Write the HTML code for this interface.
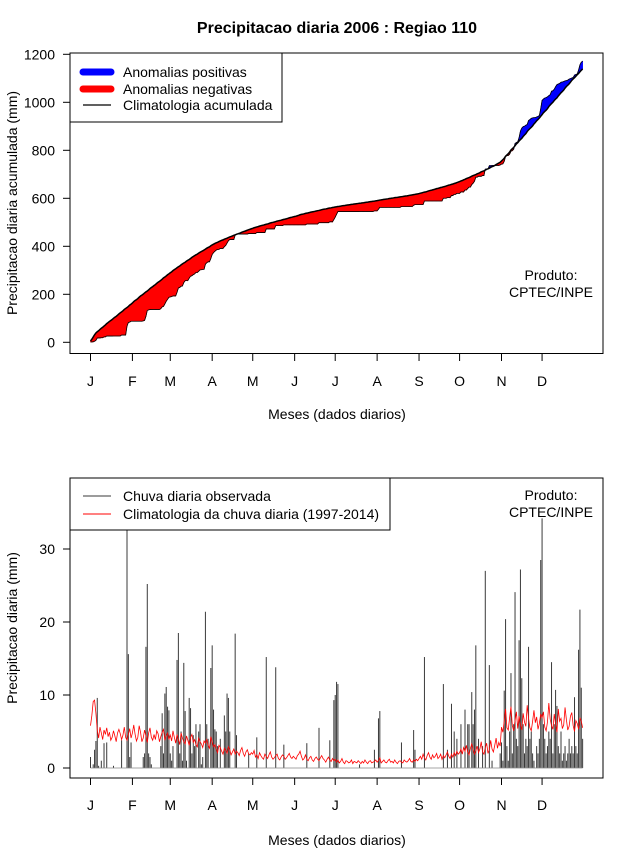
<!DOCTYPE html>
<html><head><meta charset="utf-8">
<style>
html,body{margin:0;padding:0;background:#fff;}
svg{display:block;font-family:"Liberation Sans",Arial,sans-serif;}
</style></head>
<body>
<svg id="chart" width="640" height="850" viewBox="0 0 640 850" xmlns="http://www.w3.org/2000/svg"></svg>
<script>
const months = ["J","F","M","A","M","J","J","A","S","O","N","D"];
const monthStartDays = [1,32,60,91,121,152,182,213,244,274,305,335];
const topTicks = [0,200,400,600,800,1000,1200];
const bottomTicks = [0,10,20,30];
const climDaily = [
5.8,7.2,9.1,9.3,7.5,5.2,4.1,5.6,4.8,3.9,5.2,4.6,5.5,4.3,4.9,3.8,4.2,5.1,4.4,3.6,4.8,5.3,4.7,3.9,4.5,5.6,4.2,3.8,4.6,5.4,4.1,
4.8,5.9,4.6,3.7,4.2,5.8,4.9,3.6,4.1,5.2,4.4,3.5,4.8,5.5,4.2,3.8,4.6,3.9,5.1,4.7,3.6,4.3,4.9,5.3,3.8,4.4,4.8,3.9,
4.5,3.7,5.1,4.2,3.4,4.6,3.9,3.2,4.8,4.1,3.6,3.3,4.4,3.8,3.1,4.2,4.6,3.5,3.9,3.2,2.9,4.1,3.6,3.3,2.8,3.7,3.4,3.9,3.1,2.7,4.3,
3.6,2.9,3.2,2.6,2.1,3.1,2.8,2.3,1.9,2.7,2.4,2.0,2.9,2.5,1.8,2.2,2.6,1.9,2.3,2.1,1.7,2.4,2.8,2.0,1.6,2.2,2.5,1.9,1.8,2.1,
1.9,2.4,1.5,1.8,1.3,2.1,1.7,1.4,1.2,1.9,1.6,1.3,1.8,2.2,1.5,1.2,1.4,1.7,1.9,1.3,1.1,1.5,1.8,1.6,1.2,1.4,1.7,2.0,1.5,1.3,1.6,
1.4,1.2,1.7,1.9,2.3,1.6,1.1,1.3,1.8,1.2,1.0,1.4,1.6,1.1,0.9,1.3,1.5,1.2,1.0,1.4,1.7,1.3,1.1,0.8,1.2,1.5,1.1,0.9,1.3,1.0,
1.2,0.8,1.1,0.7,0.9,1.3,0.8,0.6,1.0,0.9,0.7,0.8,1.1,0.6,0.9,0.8,0.7,1.0,0.8,0.6,0.9,0.7,1.1,0.8,0.6,0.9,1.0,0.7,0.8,0.9,1.1,
0.8,1.0,1.4,0.7,0.9,1.1,0.8,0.7,1.0,1.2,0.8,0.9,0.7,1.1,0.8,0.6,0.9,1.0,0.8,0.7,1.1,0.9,0.8,1.0,1.3,0.9,0.8,1.1,0.9,1.2,1.0,
1.3,1.6,1.2,1.9,1.4,1.1,1.7,2.1,1.5,1.2,1.8,1.4,1.6,2.0,1.3,1.5,1.9,1.2,1.7,1.4,1.8,2.2,1.6,1.3,1.9,1.5,2.1,1.7,2.3,1.9,
2.1,2.6,1.9,2.8,2.3,3.1,2.2,1.8,2.7,3.3,2.5,1.9,2.4,3.0,2.1,2.6,3.6,2.2,1.9,2.8,3.4,2.0,2.5,3.8,2.6,2.2,3.1,4.1,2.7,3.5,3.0,
5.6,4.9,6.4,8.1,5.5,5.2,6.9,8.4,5.8,5.1,6.5,7.7,5.4,7.1,5.9,5.2,7.5,6.3,5.7,8.6,6.8,5.5,5.1,6.4,7.9,6.2,7.0,5.3,6.1,7.4,
6.9,7.7,5.6,5.1,6.3,8.9,6.7,5.8,5.3,7.4,6.0,4.9,8.1,6.4,6.8,5.4,5.9,8.3,6.6,5.2,5.7,7.1,7.6,5.8,5.0,6.5,6.1,5.3,6.9,6.4,5.5
];
const obsDaily = [
1.5,0,0.5,2.5,3.7,9.6,0.3,0,1,0,3.4,0,3.5,0,0,0,0,0.3,0,0,0,0,0,3.8,0,0,0,37,15.6,1.5,3.5,
0,0,0,0,0,0,0,0,1.5,2,16.6,25.2,2,1.5,0.5,0,0,0,0,0,0,3,7.5,2,10.2,11.1,8.4,7.9,
2,1,3,0,0,14.8,18.5,2,5,1,14.4,7.8,1,0,9.6,8.2,2,4.5,3,6,0,5,6,0.5,1.5,0,21.4,6,4,0,13.7,
16.8,8,5.3,5,3,0,4,0,0,7.2,5,10.2,9.6,5,0,0,0,18.4,4.5,0,0,0,0,0,0,0,0,2,0,0,
0,0,0,4.2,0,0,0,0,0,0,15.2,0,0,0,0,0,0,13.8,0,0,0,0,0,3.2,0,0,0,0,0,0,0,
0,0,0,0,0,0,0,0,0,3.4,0,0,0,0,0,0,0,0,5.5,0,0,0,0,0,0,0,3.8,0,0,9.3,
10,11.8,11.5,0,0,0,0,0,0,0,0,0,0,0,0,0,0,0,0.5,0,0,0,0,0,0,0,0,0,0,2.5,0,
0,6.8,7.8,0,0,0,0,0,0,0,0,0,0,0,0,0,0,0,3.5,0,0,0,0,0,0,0,0,5.2,2.5,0,0,
0,0,0,0,15.2,0,0,0,0,0,0,0,0,0,0,0,0,0,11.5,0,0,2.5,0,0,8.8,0,5,0,4,0,
0,6,0,0,8,0,6,6,0,10.4,6,8,16.8,0,4,0,0,3,0,27,0,0,14.1,0,1,0,0,0,0,0,2,
3.5,1,10.6,20.4,3,1,5,13,2,6,24.1,4,3,17.5,27.2,12.3,6,2,4,3,16.6,4,5,2,1,0,3,2,4,28.5,
34.2,6,4,2,3,5,4,14.5,2,6,10.7,8.5,3,2,5,1,2,3,1,2,4,2,3,2,9.7,3,2,16.2,21.7,11,4
];

const svg = document.getElementById('chart');
const NS = "http://www.w3.org/2000/svg";
function mk(tag, attrs, parent){
  const e = document.createElementNS(NS, tag);
  for (const k in attrs) e.setAttribute(k, attrs[k]);
  (parent||svg).appendChild(e);
  return e;
}
function txt(str, attrs, parent){ const t = mk('text', attrs, parent); t.textContent = str; return t; }

const xDay = d => 90.5 + (d-1)*1.352;
const yTop = v => 342.3 - v*0.24;
const yBot = v => 768 - v*7.3;

const title = txt("Precipitacao diaria 2006 : Regiao 110", {x:337,y:33,"text-anchor":"middle","font-size":16,"font-weight":"bold"});



// ===== TOP PANEL =====
const cumObs = [], cumClim = [];
let so=0, sc=0;
for (let i=0;i<obsDaily.length;i++){ so+=obsDaily[i]; sc+=climDaily[i]; cumObs.push(so); cumClim.push(sc); }

const gTop = mk('g',{});


for (let i=0;i<cumObs.length-1;i++){
  const d=i+1;
  const diff = (cumObs[i]-cumClim[i]) + (cumObs[i+1]-cumClim[i+1]);
  const p = mk('polygon',{points:`${xDay(d)},${yTop(cumObs[i])} ${xDay(d+1)},${yTop(cumObs[i+1])} ${xDay(d+1)},${yTop(cumClim[i+1])} ${xDay(d)},${yTop(cumClim[i])}`,
    fill: diff>=0 ? "#0000ff" : "#ff0000", stroke: diff>=0 ? "#0000ff" : "#ff0000","stroke-width":0.6}, gTop);
  
  
}
const obsLine = mk('polyline',{points:cumObs.map((v,i)=>`${xDay(i+1)},${yTop(v)}`).join(' '),fill:"none",stroke:"#000","stroke-width":0.8}, gTop);


const climLine = mk('polyline',{points:cumClim.map((v,i)=>`${xDay(i+1)},${yTop(v)}`).join(' '),fill:"none",stroke:"#000","stroke-width":1.5}, gTop);



const boxTop = mk('rect',{x:70,y:53,width:533,height:300.5,fill:"none",stroke:"#000","stroke-width":1});


topTicks.forEach(v=>{
  const l = mk('line',{x1:63,x2:70,y1:yTop(v),y2:yTop(v),stroke:"#000"});
  
  
  const t = txt(String(v),{x:55,y:yTop(v)+5,"text-anchor":"end","font-size":14});
  
  
});
function xAxis(yb, yl){
  months.forEach((m,i)=>{
    const x = xDay(monthStartDays[i]);
    const l = mk('line',{x1:x,x2:x,y1:yb,y2:yb+7,stroke:"#000"});
    
    
    const t = txt(m,{x:x,y:yl,"text-anchor":"middle","font-size":14});
    
    
  });
}
xAxis(354, 386);
const xt1 = txt("Meses (dados diarios)",{x:337,y:419,"text-anchor":"middle","font-size":14});


const yt1 = txt("Precipitacao diaria acumulada (mm)",{x:0,y:0,"text-anchor":"middle","font-size":14,transform:"translate(17,203) rotate(-90)"});


const pr1 = txt("Produto:",{x:551,y:280,"text-anchor":"middle","font-size":14});


const pr1b = txt("CPTEC/INPE",{x:551,y:297,"text-anchor":"middle","font-size":14});



const leg1 = mk('g',{});


mk('rect',{x:70,y:53,width:212,height:69,fill:"#fff",stroke:"#000"},leg1);
[["Anomalias positivas","#0000ff",7,72],["Anomalias negativas","#ff0000",7,89],["Climatologia acumulada","#000",1.2,105]].forEach(e=>{
  const l = mk('line',{x1:83,x2:111,y1:e[3],y2:e[3],stroke:e[1],"stroke-width":e[2],"stroke-linecap":e[2]>2?"round":"butt"},leg1);
  
  
  const t = txt(e[0],{x:123,y:e[3]+5,"font-size":14},leg1);
  
  
});

// ===== BOTTOM PANEL =====
const gBot = mk('g',{});


obsDaily.forEach((v,i)=>{
  if (v<=0) return;
  const x = xDay(i+1);
  const b = mk('line',{x1:x,x2:x,y1:yBot(0),y2:yBot(v),stroke:"#3a3a3a","stroke-width":1}, gBot);
  
  
});
const zeroLine = mk('line',{x1:xDay(1),x2:xDay(365),y1:yBot(0),y2:yBot(0),stroke:"#888","stroke-width":0.8},gBot);


const climDailyLine = mk('polyline',{points:climDaily.map((v,i)=>`${xDay(i+1)},${yBot(v)}`).join(' '),fill:"none",stroke:"#ff0000","stroke-width":0.8}, gBot);



const boxBot = mk('rect',{x:70,y:478,width:533,height:300,fill:"none",stroke:"#000","stroke-width":1});


bottomTicks.forEach(v=>{
  const l = mk('line',{x1:63,x2:70,y1:yBot(v),y2:yBot(v),stroke:"#000"});
  
  
  const t = txt(String(v),{x:55,y:yBot(v)+5,"text-anchor":"end","font-size":14});
  
  
});
xAxis(778, 810);
const xt2 = txt("Meses (dados diarios)",{x:337,y:845,"text-anchor":"middle","font-size":14});


const yt2 = txt("Precipitacao diaria (mm)",{x:0,y:0,"text-anchor":"middle","font-size":14,transform:"translate(17,628) rotate(-90)"});


const pr2 = txt("Produto:",{x:551,y:500,"text-anchor":"middle","font-size":14});


const pr2b = txt("CPTEC/INPE",{x:551,y:517,"text-anchor":"middle","font-size":14});



const leg2 = mk('g',{});


mk('rect',{x:70,y:478,width:320,height:52,fill:"#fff",stroke:"#000"},leg2);
[["Chuva diaria observada","#3a3a3a",496],["Climatologia da chuva diaria (1997-2014)","#ff0000",514]].forEach(e=>{
  const l = mk('line',{x1:83,x2:111,y1:e[2],y2:e[2],stroke:e[1],"stroke-width":1},leg2);
  
  
  const t = txt(e[0],{x:123,y:e[2]+5,"font-size":14},leg2);
  
  
});
</script>
</body></html>
